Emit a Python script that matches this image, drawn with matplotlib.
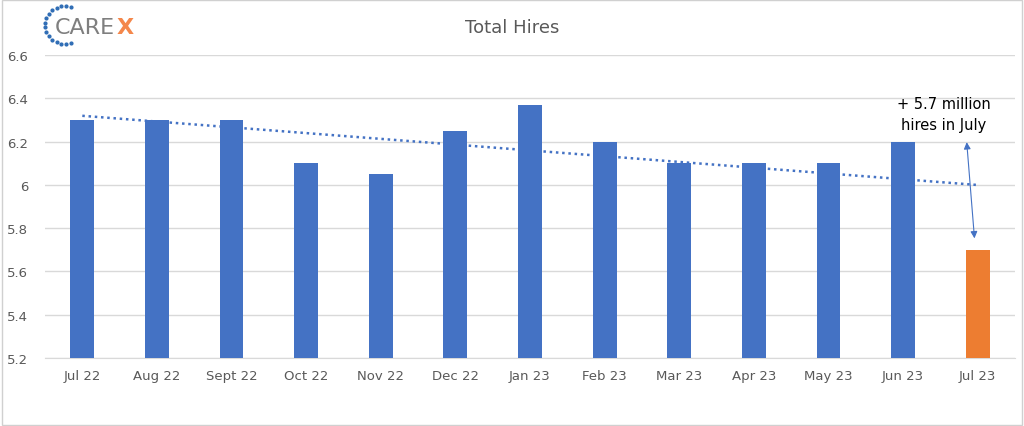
import matplotlib
matplotlib.use("Agg")
import matplotlib.pyplot as plt
import numpy as np
from matplotlib.patches import Rectangle, FancyArrowPatch

categories = ["Jul 22","Aug 22","Sept 22","Oct 22","Nov 22","Dec 22","Jan 23","Feb 23","Mar 23","Apr 23","May 23","Jun 23","Jul 23"]
values = [6.3,6.3,6.3,6.1,6.05,6.25,6.37,6.2,6.1,6.1,6.1,6.2,5.7]
yticks = [5.2,5.4,5.6,5.8,6.0,6.2,6.4,6.6]
ytick_labels = ["5.2","5.4","5.6","5.8","6","6.2","6.4","6.6"]

fig = plt.figure(figsize=(10.24,4.27), dpi=100)
fig.patches.append(Rectangle((0.002,0.003),0.996,0.994,transform=fig.transFigure,fill=False,edgecolor="#d0d0d0",lw=1))
ax = fig.add_axes([45/1024, 1-359/427, 970/1024, 303/427])
x = np.arange(len(categories))
colors = ["#4472C4"]*(len(values)-1) + ["#ED7D31"]
ax.bar(x, values, width=0.32, color=colors, zorder=3)
ax.set_ylim(5.2,6.6)
ax.set_xlim(-0.5,len(categories)-0.5)
ax.set_yticks(yticks, ytick_labels)
ax.set_xticks(x, categories)
ax.tick_params(length=0, labelsize=9.5, colors="#595959")
ax.tick_params(axis="y", pad=12)
ax.tick_params(axis="x", pad=8)
ax.grid(axis="y", color="#d9d9d9", lw=1, zorder=0)
for s in ["top","right","left"]:
    ax.spines[s].set_visible(False)
ax.spines["bottom"].set_color("#d9d9d9")
c = np.polyfit(x, values, 1)
ax.plot(x, np.polyval(c, x), ls=(0,(1,1.5)), color="#4472C4", lw=1.8, zorder=4)
ax.text(11.55, 6.245, "+ 5.7 million\nhires in July", ha="center", va="bottom", fontsize=10.5, linespacing=1.5)
ax.add_patch(FancyArrowPatch((11.85, 6.21), (11.96, 5.74), arrowstyle="<|-|>", mutation_scale=10, color="#4472C4", lw=0.8, zorder=5))
fig.text(0.5, 1-28/427, "Total Hires", ha="center", va="center", fontsize=13, color="#595959")
# logo
ax_logo = fig.add_axes([0, 1-50/427, 200/1024, 50/427]); ax_logo.axis("off")
ax_logo.set_xlim(0,200); ax_logo.set_ylim(50,0)
th = np.linspace(np.pi*0.38, np.pi*1.62, 16)
ax_logo.scatter(64+19*np.cos(th), 26-19*np.sin(th), s=4, color="#2F6DB5")
ax_logo.text(55, 28, "CARE", fontsize=16, color="#7f7f7f", va="center", ha="left")
ax_logo.text(117, 28, "X", fontsize=16, color="#F4874B", va="center", ha="left", fontweight="bold")
fig.savefig("out.png", dpi=100)
